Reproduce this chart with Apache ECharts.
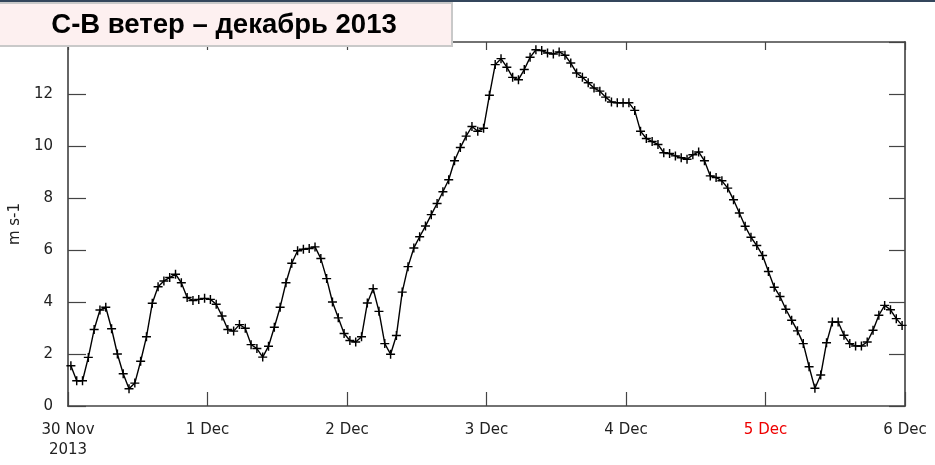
<!DOCTYPE html>
<html>
<head>
<meta charset="utf-8">
<script src="https://cdn.jsdelivr.net/npm/echarts@6/dist/echarts.min.js"></script>
<style>
  html, body { margin: 0; padding: 0; background: #fff; }
  #chart { width: 935px; height: 465px; }
</style>
</head>
<body>
<div id="chart"></div>
<script>
// hourly wind speed, m s-1 (observations at hh:30), 30 Nov 2013 .. 5 Dec 2013
const windSpeed = [
  1.55, 0.97, 0.97, 1.87, 2.94, 3.69, 3.80, 2.97, 2.00, 1.24, 0.66, 0.88,
  1.72, 2.66, 3.95, 4.59, 4.81, 4.94, 5.07, 4.74, 4.17, 4.06, 4.10, 4.14,
  4.10, 3.91, 3.46, 2.94, 2.88, 3.13, 2.99, 2.36, 2.21, 1.88, 2.30, 3.03,
  3.80, 4.74, 5.49, 5.97, 6.03, 6.06, 6.12, 5.67, 4.90, 4.00, 3.39, 2.79,
  2.52, 2.46, 2.66, 3.96, 4.51, 3.64, 2.40, 1.99, 2.71, 4.38, 5.36, 6.08,
  6.51, 6.92, 7.36, 7.79, 8.24, 8.70, 9.43, 9.94, 10.38, 10.75, 10.57, 10.68,
  11.95, 13.13, 13.36, 13.03, 12.64, 12.55, 12.94, 13.41, 13.70, 13.67, 13.58, 13.54,
  13.62, 13.49, 13.19, 12.81, 12.64, 12.43, 12.23, 12.11, 11.88, 11.69, 11.66, 11.66,
  11.66, 11.37, 10.57, 10.29, 10.17, 10.06, 9.74, 9.71, 9.62, 9.55, 9.49, 9.66,
  9.77, 9.43, 8.85, 8.79, 8.66, 8.38, 7.93, 7.42, 6.91, 6.49, 6.17, 5.79,
  5.17, 4.57, 4.21, 3.72, 3.30, 2.89, 2.40, 1.51, 0.68, 1.19, 2.43, 3.23,
  3.23, 2.72, 2.40, 2.31, 2.31, 2.46, 2.91, 3.49, 3.87, 3.70, 3.36, 3.10
];
const dayLabels = ["30 Nov\n2013", "1 Dec", "2 Dec", "3 Dec", "4 Dec", "5 Dec", "6 Dec"];
const holidayLabel = "5 Dec"; // red on the axis
const yTicks = [0, 2, 4, 6, 8, 10, 12, 14];

const chart = echarts.init(document.getElementById("chart"));
const font = "DejaVu Sans";
const axisColor = "#444";

// hours since 30 Nov 00:00
const seriesData = windSpeed.map((v, i) => [i + 0.5, v]);

chart.setOption({
  animation: false,
  backgroundColor: "#fff",
  grid: { left: 66, right: 30, top: 42, bottom: 59 },
  graphic: [
    {
      type: "rect",
      shape: { x: 0, y: 0, width: 935, height: 2 },
      style: { fill: "#34465c" },
      z: 100
    },
    {
      type: "rect",
      shape: { x: -1, y: 3, width: 453, height: 43 },
      style: { fill: "#fdf0f0", stroke: "#c9c9c9", lineWidth: 2 },
      z: 100
    },
    {
      type: "text",
      x: 224,
      y: 25,
      style: {
        text: "С-В ветер – декабрь 2013",
        fill: "#000",
        font: "bold 27.5px 'Liberation Sans', Arial, sans-serif",
        align: "center",
        verticalAlign: "middle"
      },
      z: 101
    }
  ],
  xAxis: [
    {
      type: "value",
      min: 0,
      max: 144,
      interval: 24,
      position: "bottom",
      axisLine: { show: true, onZero: false, lineStyle: { color: axisColor, width: 1.5 } },
      axisTick: { show: true, inside: true, length: 14, lineStyle: { color: axisColor, width: 1.2 } },
      splitLine: { show: false },
      axisLabel: {
        margin: 14,
        fontSize: 15,
        fontFamily: font,
        color: "#222",
        lineHeight: 20,
        formatter: function (v) {
          const lbl = dayLabels[Math.round(v / 24)];
          return lbl === holidayLabel ? "{r|" + lbl + "}" : lbl;
        },
        rich: { r: { color: "#ee0000", fontSize: 15, fontFamily: font } }
      }
    },
    {
      type: "value",
      min: 0,
      max: 144,
      interval: 24,
      position: "top",
      axisLine: { show: true, onZero: false, lineStyle: { color: axisColor, width: 1.5 } },
      axisTick: { show: true, inside: true, length: 8, lineStyle: { color: axisColor, width: 1.2 } },
      splitLine: { show: false },
      axisLabel: { show: false }
    }
  ],
  yAxis: [
    {
      type: "value",
      min: yTicks[0],
      max: yTicks[yTicks.length - 1],
      interval: 2,
      name: "m s-1",
      nameLocation: "middle",
      nameGap: 39,
      nameTextStyle: { fontSize: 15, fontFamily: font, color: "#222" },
      axisLine: { show: true, onZero: false, lineStyle: { color: "#666", width: 2 } },
      axisTick: { show: true, inside: true, length: 18, lineStyle: { color: axisColor, width: 1.2 } },
      splitLine: { show: false },
      axisLabel: {
        margin: 15,
        fontSize: 15,
        fontFamily: font,
        color: "#222",
        showMaxLabel: false
      }
    },
    {
      type: "value",
      min: yTicks[0],
      max: yTicks[yTicks.length - 1],
      interval: 2,
      position: "right",
      axisLine: { show: true, onZero: false, lineStyle: { color: "#666", width: 2 } },
      axisTick: { show: true, inside: true, length: 16, lineStyle: { color: axisColor, width: 1.2 } },
      splitLine: { show: false },
      axisLabel: { show: false }
    }
  ],
  series: [
    {
      name: "wind",
      type: "line",
      xAxisIndex: 0,
      yAxisIndex: 0,
      data: seriesData,
      symbol: "path://M0,4.2h10v1.6h-10z M4.2,0h1.6v10h-1.6z",
      symbolSize: 9,
      lineStyle: { color: "#000", width: 1.4 },
      itemStyle: { color: "#000" }
    }
  ]
});
</script>
</body>
</html>
